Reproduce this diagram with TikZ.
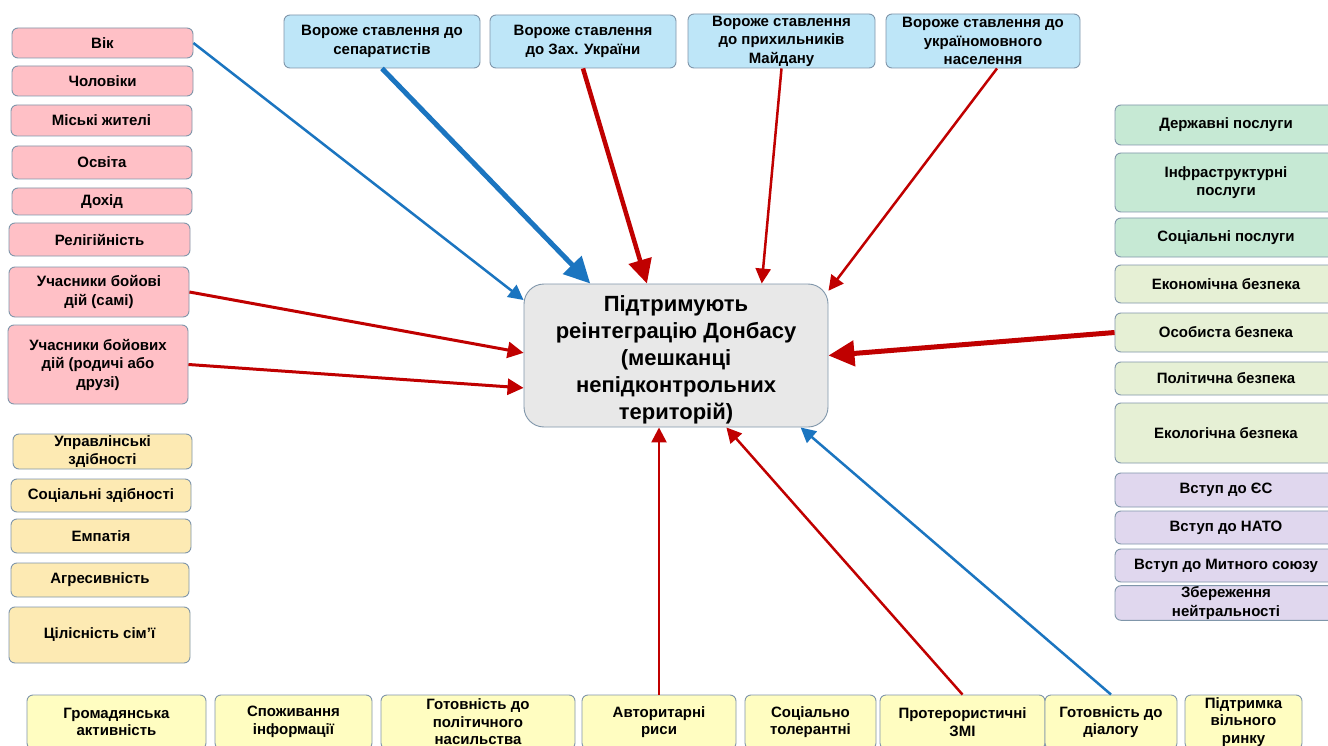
\documentclass[tikz,border=0pt]{standalone}
\usepackage{fontspec}
\setmainfont{Liberation Sans}
\usetikzlibrary{arrows.meta,calc}
\definecolor{bord}{HTML}{8096AA}
\definecolor{pinkf}{HTML}{FFC0C6}
\definecolor{peachf}{HTML}{FDEAB3}
\definecolor{yelf}{HTML}{FFFDC1}
\definecolor{bluef}{HTML}{BEE6F8}
\definecolor{greenA}{HTML}{C6E9D4}
\definecolor{greenB}{HTML}{E6F0D5}
\definecolor{purf}{HTML}{E0D7EE}
\definecolor{cenf}{HTML}{E8E8E8}
\definecolor{arblue}{HTML}{1B75C0}
\definecolor{arred}{HTML}{C00000}
\tikzset{
  bx/.style={draw=bord, line width=0.9pt, rounded corners=6pt, align=center, inner sep=1pt,
    font=\bfseries\fontsize{15}{18.5}\selectfont},
  pk/.style={bx, fill=pinkf},
  pe/.style={bx, fill=peachf},
  ye/.style={bx, fill=yelf, font=\bfseries\fontsize{15}{17.5}\selectfont},
  bl/.style={bx, fill=bluef},
  gA/.style={bx, fill=greenA},
  gB/.style={bx, fill=greenB},
  pu/.style={bx, fill=purf},
  cbox/.style={draw=bord, line width=0.9pt, rounded corners=20pt, fill=cenf, align=center,
    font=\bfseries\fontsize{22}{27}\selectfont},
  thinar/.style={line width=2.5pt, -{Triangle[length=15pt,width=15pt]}},
  medar/.style={line width=3pt, -{Triangle[length=16pt,width=16pt]}},
  bigar/.style={line width=4.5pt, -{Triangle[length=24pt,width=23pt]}},
  hugear/.style={line width=5pt, -{Triangle[length=26pt,width=25pt]}},
}
\newcommand\mybox[7]{\node[#2, minimum width={#5-#3}, minimum height={#6-#4}] (#1) at ({(#3+#5)/2},{(#4+#6)/2}) {#7};}
\begin{document}
\begin{tikzpicture}[x=1pt,y=-1pt]
\fill[white] (0,0) rectangle (1328,746);
\useasboundingbox (0,0) rectangle (1328,746);
% left pink
\mybox{vik}{pk}{12}{28}{193}{58}{Вік}
\mybox{chol}{pk}{12}{66}{193}{96}{Чоловіки}
\mybox{misk}{pk}{11}{105}{192}{136}{Міські жителі}
\mybox{osv}{pk}{12}{146}{192}{179}{Освіта}
\mybox{doh}{pk}{12}{188}{192}{215}{Дохід}
\mybox{rel}{pk}{9}{223}{190}{256}{Релігійність}
\mybox{sami}{pk}{9}{267}{189}{317}{Учасники бойові\\дій (самі)}
\mybox{rod}{pk}{8}{325}{188}{404}{Учасники бойових\\дій (родичі або\\друзі)}
% left peach
\mybox{upr}{pe}{13}{434}{192}{469}{Управлінські\\здібності}
\mybox{socz}{pe}{11}{479}{191}{512}{Соціальні здібності}
\mybox{emp}{pe}{11}{519}{191}{553}{Емпатія}
\mybox{agr}{pe}{11}{563}{189}{597}{Агресивність}
\mybox{cil}{pe}{9}{607}{190}{663}{Цілісність сім'ї}
% top
\mybox{sep}{bl}{284}{15}{480}{68}{Вороже ставлення до\\сепаратистів}
\mybox{zah}{bl}{490}{15}{676}{68}{Вороже ставлення\\до Зах. України}
\mybox{maid}{bl}{688}{14}{875}{68}{Вороже ставлення\\до прихильників\\Майдану}
\mybox{ukr}{bl}{886}{14}{1080}{68}{Вороже ставлення до\\україномовного\\населення}
% right
\mybox{derzh}{gA}{1115}{105}{1337}{145}{Державні послуги}
\mybox{infr}{gA}{1115}{153}{1337}{212}{Інфраструктурні\\послуги}
\mybox{socp}{gA}{1115}{218}{1337}{257}{Соціальні послуги}
\mybox{ekon}{gB}{1115}{265}{1337}{303}{Економічна безпека}
\mybox{osob}{gB}{1115}{313}{1337}{352}{Особиста  безпека}
\mybox{polit}{gB}{1115}{362}{1337}{395}{Політична безпека}
\mybox{ekol}{gB}{1115}{403}{1337}{463}{Екологічна безпека}
\mybox{es}{pu}{1115}{473}{1337}{507}{Вступ  до ЄС}
\mybox{nato}{pu}{1115}{511}{1337}{544}{Вступ  до НАТО}
\mybox{myt}{pu}{1115}{549}{1337}{582}{Вступ  до Митного  союзу}
\mybox{neyt}{pu}{1115}{586}{1337}{620}{Збереження\\нейтральності}
% bottom
\mybox{grom}{ye}{27}{695}{206}{749}{Громадянська\\активність}
\mybox{spoz}{ye}{215}{695}{372}{749}{Споживання\\інформації}
\mybox{gotp}{ye}{381}{695}{575}{749}{Готовність до\\політичного\\насильства}
\mybox{avt}{ye}{582}{695}{736}{749}{Авторитарні\\риси}
\mybox{soct}{ye}{745}{695}{876}{749}{Соціально\\толерантні}
\mybox{zmi}{ye}{880}{695}{1045}{749}{Протерористичні\\ЗМІ}
\mybox{dial}{ye}{1045}{695}{1177}{749}{Готовність до\\діалогу}
\mybox{rynok}{ye}{1185}{695}{1302}{749}{Підтримка\\вільного\\ринку}
% centre
\mybox{cen}{cbox}{524}{284}{828}{427}{\raisebox{-4pt}[\height][\depth]{\parbox{290pt}{\centering Підтримують\\реінтеграцію  Донбасу\\(мешканці\\непідконтрольних\\територій)}}}
% arrows
\draw[thinar, arblue] (vik.east) -- (cen.160.6);
\draw[hugear, arblue] (sep.south) -- (cen.140.3);
\draw[bigar, arred] (zah.south) -- (cen.112.1);
\draw[thinar, arred] (maid.south) -- (cen.40.4);
\draw[thinar, arred] ($(ukr.south)+(14,0)$) -- (cen.23);
\draw[medar, arred] (sami.east) -- (cen.179.5);
\draw[medar, arred] (rod.east) -- (cen.192.1);
\draw[hugear, arred] (osob.west) -- (cen.east);
\draw[thinar, arred] (avt.north) -- (avt.north |- cen.south);
\draw[thinar, arred] (zmi.north) -- (cen.305.5);
\draw[thinar, arblue] (dial.north) -- (cen.330.6);
\end{tikzpicture}
\end{document}
